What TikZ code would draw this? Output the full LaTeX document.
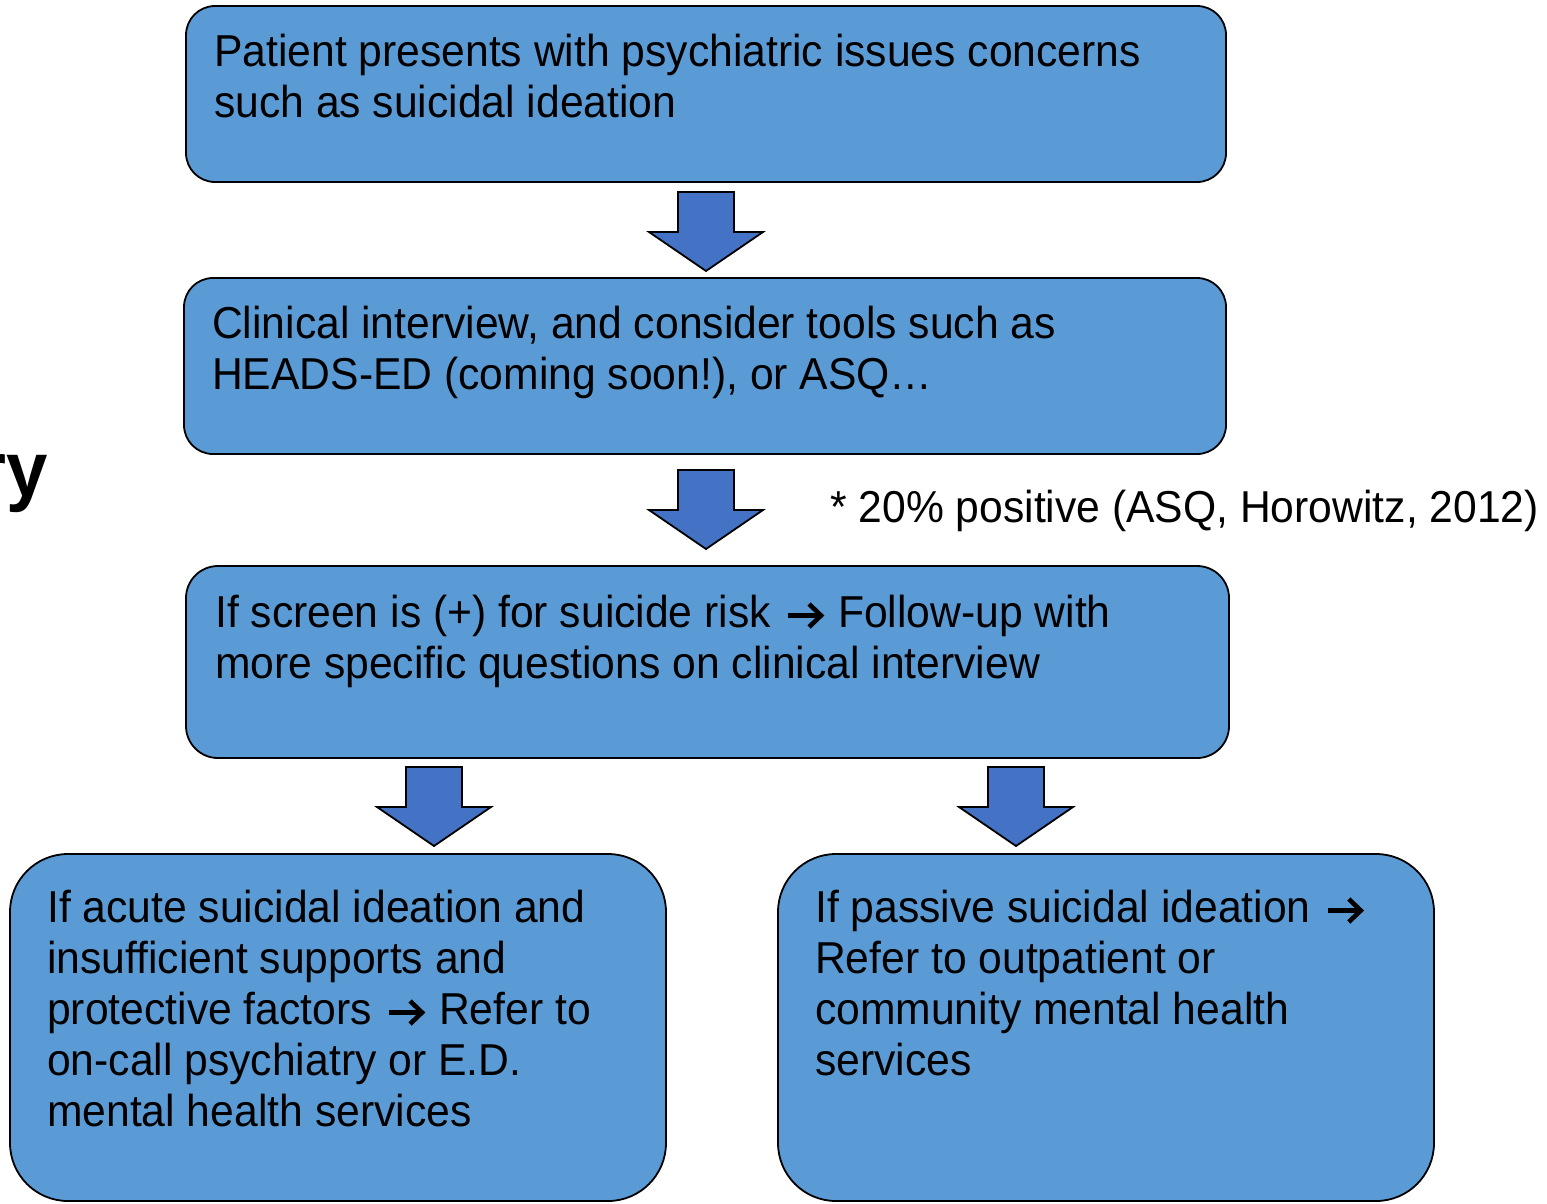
\documentclass[tikz,border=0pt]{standalone}
\usepackage{fontspec}
\setmainfont{Liberation Sans}[FakeStretch=0.954]
\usetikzlibrary{calc}
\definecolor{boxblue}{HTML}{5B9BD5}
\definecolor{arrowblue}{HTML}{4472C4}
\tikzset{
  box/.style={draw=black, line width=1.8pt, fill=boxblue, rounded corners=#1},
  boxtext/.style={anchor=base west, align=left, inner sep=0pt, font=\fontsize{44.7}{51}\selectfont},
  blockarrow/.style={draw=black, line width=1.8pt, fill=arrowblue, line join=miter},
}
\newcommand{\rarr}{\hspace{3pt}\tikz[x=1pt,y=1pt,baseline=0pt]{\draw[line width=4.6pt, line join=miter] (0,11.5) -- (33,11.5); \draw[line width=4.6pt, line join=miter] (21,0) -- (33,11.5) -- (21,23);}\hspace{3pt}}
\begin{document}
\begin{tikzpicture}[x=1pt,y=-1pt]
\useasboundingbox (0,0) rectangle (1547,1203);
% title fragment
\node[anchor=base east, inner sep=0pt, font=\fontsize{78}{90}\selectfont\bfseries] (title) at (48,496) {ry};
% boxes
\draw[box=29] (186,6) rectangle (1226,182);
\draw[box=29] (184,278) rectangle (1226,454);
\draw[box=32] (186,566) rectangle (1229,758);
\draw[box=58] (10,854) rectangle (666,1201);
\draw[box=58] (778,854) rectangle (1434,1201);
% texts (anchor = baseline of last line)
\node[boxtext] (t1) at (214,117) {Patient presents with psychiatric issues concerns\\such as suicidal ideation};
\node[boxtext] (t2) at (212,389) {Clinical interview, and consider tools such as\\HEADS-ED (coming soon!), or ASQ…};
\node[boxtext] (t3) at (215,678) {If screen is (+) for suicide risk \rarr{} Follow-up with\\more specific questions on clinical interview};
\node[boxtext] (t4) at (47,1126) {If acute suicidal ideation and\\insufficient supports and\\protective factors \rarr{} Refer to\\on-call psychiatry or E.D.\\mental health services};
\node[boxtext] (t5) at (815,1075) {If passive suicidal ideation \rarr\\Refer to outpatient or\\community mental health\\services};
\node[boxtext] (note) at (830,522) {* 20\% positive (ASQ, Horowitz, 2012)};
% block arrows: shaft half width 28, head half width 57, head length 39
\newcommand{\blockarr}[3]{% x, top y, tip y
  \draw[blockarrow] (#1-28,#2) -- (#1+28,#2) -- (#1+28,#3-39) -- (#1+57,#3-39) -- (#1,#3) -- (#1-57,#3-39) -- (#1-28,#3-39) -- cycle;}
\blockarr{706}{192}{271}
\blockarr{706}{470}{549}
\blockarr{434}{767}{846}
\blockarr{1016}{767}{846}
\end{tikzpicture}
\end{document}
